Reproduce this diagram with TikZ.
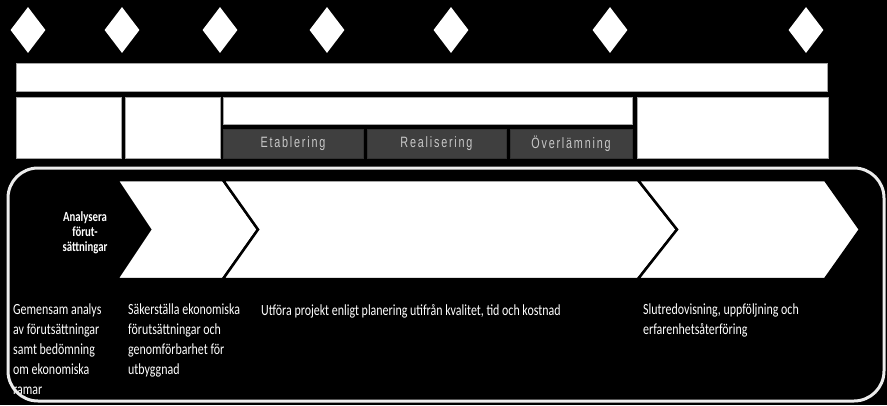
\documentclass[tikz,border=0pt]{standalone}
\usepackage{fontspec}
\usetikzlibrary{shapes.geometric}
\newfontfamily\calibfont{Carlito}[FakeStretch=0.77]
\newfontfamily\phasefont{Liberation Sans}[FakeStretch=0.72,LetterSpace=12]
\definecolor{phasegray}{HTML}{3F3F3F}
\definecolor{phasetext}{HTML}{C8C8C8}
\begin{document}
\begin{tikzpicture}[
    x=1pt, y=-1pt,
    milestone/.style={diamond, fill=white, inner sep=0pt, aspect=0.76, minimum width=35pt, minimum height=46pt},
    phasebox/.style={draw=gray!70, fill=white, line width=0.8pt, inner sep=0pt},
    subphase/.style={draw=gray!40!black, fill=phasegray, text=phasetext, inner sep=0pt, minimum height=29pt, font=\phasefont\fontsize{15}{18}\selectfont},
    chevron/.style={fill=white, draw=black, line width=2.5pt, line join=miter},
    desc/.style={anchor=north west, align=left, text=white, inner sep=0pt, font=\calibfont\fontsize{15.5}{20}\selectfont},
]
\useasboundingbox (0,0) rectangle (887,405);
\fill[black] (0,0) rectangle (887,405);

% --- Row 1: Milestones ---
\node[milestone] (m1) at (28, 30) {};
\node[milestone] (m2) at (122, 30) {};
\node[milestone] (m3) at (220, 30) {};
\node[milestone] (m4) at (327, 30) {};
\node[milestone] (m5) at (451, 30) {};
\node[milestone] (m6) at (610, 30) {};
\node[milestone] (m7) at (806, 30) {};

% --- Row 2: Project bar ---
\node[phasebox, minimum width=811pt, minimum height=28pt] (bar) at (421.5, 77) {};

% --- Row 3: Phase boxes ---
\node[phasebox, minimum width=105pt, minimum height=61pt] (pa) at (68.5, 127.5) {};
\node[phasebox, minimum width=95pt, minimum height=61pt] (pb) at (172.5, 127.5) {};
\node[phasebox, minimum width=409pt, minimum height=27pt] (pc) at (427.5, 110.5) {};
\node[phasebox, minimum width=191pt, minimum height=61pt] (pd) at (732.5, 127.5) {};

% --- Row 3: Sub-phases ---
\node[subphase, minimum width=140pt] (etab) at (293, 143.5) {Etablering};
\node[subphase, minimum width=139pt] (real) at (436.5, 143.5) {Realisering};
\node[subphase, minimum width=122pt] (overl) at (571, 143.5) {Överlämning};

% --- Process chevrons ---
\fill[black] (20,180) -- (117,180) -- (150,229.5) -- (117,279) -- (20,279) -- (53,229.5) -- cycle;
\draw[chevron] (117,180) -- (223,180) -- (258,229.5) -- (223,279) -- (117,279) -- (150,229.5) -- cycle;
\draw[chevron] (223,180) -- (638,180) -- (677,229.5) -- (638,279) -- (223,279) -- (258,229.5) -- cycle;
\draw[chevron] (638,180) -- (825,180) -- (860,229.5) -- (825,279) -- (638,279) -- (677,229.5) -- cycle;
\node[align=center, text=white, font=\calibfont\bfseries\fontsize{14}{15}\selectfont] (analys) at (85, 233) {Analysera\\förut-\\sättningar};

% --- Descriptions ---
\node[desc] (d1) at (13, 304) {Gemensam analys\\av förutsättningar\\samt bedömning\\om ekonomiska\\ramar};
\node[desc] (d2) at (128, 304) {Säkerställa ekonomiska\\förutsättningar och\\genomförbarhet för\\utbyggnad};
\node[desc] (d3) at (261, 304) {Utföra projekt enligt planering utifrån kvalitet, tid och kostnad};
\node[desc] (d4) at (643, 304) {Slutredovisning, uppföljning och\\erfarenhetsåterföring};

% --- Frame ---
\draw[gray!15, line width=3pt, rounded corners=30pt] (8,168) rectangle (884,401);

\end{tikzpicture}
\end{document}
